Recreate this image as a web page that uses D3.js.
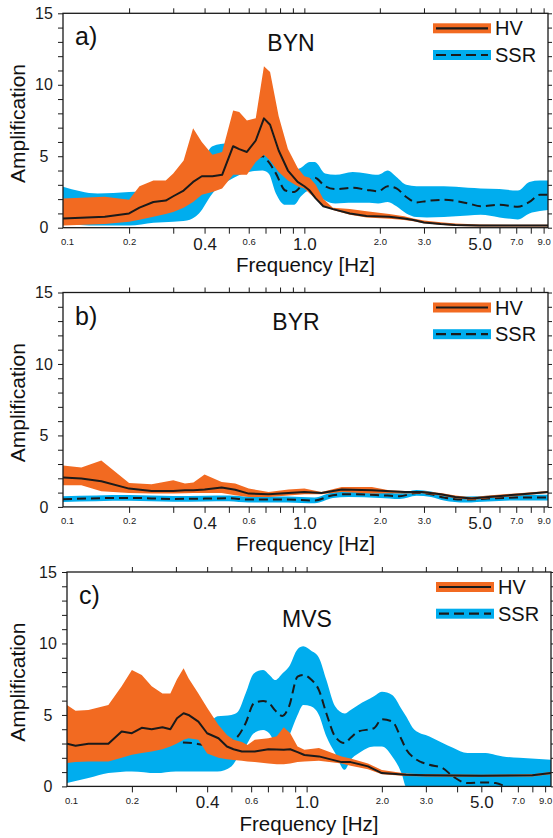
<!DOCTYPE html>
<html>
<head>
<meta charset="utf-8">
<script src="https://cdn.jsdelivr.net/npm/d3@7"></script>
<style>
  body { margin: 0; background: #fff; }
  svg { display: block; }
  text { font-family: "Liberation Sans", Arial, Helvetica, sans-serif; fill: #111; }
</style>
</head>
<body>
<div id="chart"></div>
<script>
// ---- panel a) BYN ----
const fA_hv = [0.109, 0.16, 0.2, 0.22, 0.25, 0.28, 0.3, 0.33, 0.36, 0.39, 0.43, 0.47, 0.52, 0.55, 0.59, 0.64, 0.69, 0.73, 0.79, 0.86, 0.94, 1.0, 1.05, 1.11, 1.19, 1.3, 1.52, 1.77, 2.18, 2.5, 2.72, 3.0, 3.5, 4.0, 5.0, 7.0, 9.4];
const hvA    = [0.65, 0.77, 1.0, 1.4, 1.8, 1.9, 2.2, 2.6, 3.2, 3.6, 3.6, 3.7, 5.7, 5.5, 5.3, 6.1, 7.65, 7.2, 5.4, 4.0, 3.2, 2.9, 2.6, 2.05, 1.5, 1.3, 1.0, 0.82, 0.77, 0.65, 0.54, 0.37, 0.26, 0.19, 0.15, 0.15, 0.15];
const hvA_lo = [0.15, 0.26, 0.42, 0.55, 0.77, 0.95, 1.1, 1.4, 1.8, 2.3, 2.5, 2.75, 3.7, 3.7, 3.7, 4.6, 5.1, 4.7, 3.9, 3.3, 2.9, 2.75, 2.4, 2.0, 1.55, 1.24, 0.9, 0.72, 0.62, 0.54, 0.45, 0.32, 0.2, 0.12, 0.08, 0.08, 0.08];
const hvA_hi = [2.05, 2.17, 1.95, 2.9, 3.3, 3.3, 3.8, 4.7, 6.95, 6.0, 5.1, 5.3, 8.2, 8.1, 7.5, 7.65, 11.3, 10.9, 7.8, 5.5, 4.2, 3.6, 3.5, 3.0, 2.0, 1.4, 1.3, 1.15, 0.95, 0.8, 0.65, 0.5, 0.38, 0.3, 0.22, 0.2, 0.2];

const fA_ssr = [0.109, 0.15, 0.2, 0.25, 0.3, 0.34, 0.38, 0.43, 0.5, 0.6, 0.68, 0.72, 0.77, 0.84, 0.91, 0.97, 1.05, 1.1, 1.21, 1.33, 1.56, 1.77, 1.97, 2.15, 2.33, 2.55, 2.8, 3.08, 3.6, 4.5, 5.05, 6.0, 7.1, 7.9, 8.7, 9.4];
const ssrA    = [1.5, 1.4, 1.45, 1.45, 1.5, 1.75, 2.4, 3.7, 4.4, 4.6, 5.0, 4.6, 3.8, 2.6, 2.5, 2.9, 3.4, 3.5, 2.9, 2.7, 2.8, 2.65, 2.55, 2.9, 2.75, 2.15, 1.77, 1.87, 1.95, 1.7, 1.5, 1.6, 1.47, 1.8, 2.3, 2.3];
const ssrA_lo = [0.3, 0.15, 0.15, 0.35, 0.42, 0.5, 1.0, 2.4, 3.3, 3.9, 4.0, 3.8, 2.4, 1.6, 1.6, 2.2, 2.6, 2.5, 1.9, 1.7, 1.75, 1.75, 1.7, 1.8, 1.5, 1.0, 0.75, 0.72, 0.75, 0.85, 0.9, 0.72, 0.58, 1.0, 1.17, 1.24];
const ssrA_hi = [2.87, 2.4, 2.5, 2.6, 2.8, 3.2, 4.0, 5.7, 5.9, 5.8, 5.5, 5.2, 4.6, 3.7, 4.0, 4.2, 4.6, 4.6, 3.8, 3.7, 3.9, 3.8, 3.7, 4.0, 3.55, 3.0, 2.9, 2.9, 2.9, 2.8, 2.75, 2.7, 2.6, 3.2, 3.3, 3.3];

// ---- panel b) BYR ----
const fB_hv = [0.109, 0.129, 0.155, 0.2, 0.246, 0.3, 0.334, 0.361, 0.4, 0.468, 0.53, 0.6, 0.72, 0.864, 1.0, 1.17, 1.41, 1.86, 2.2, 2.52, 2.94, 3.5, 4.0, 4.65, 5.42, 7.37, 9.4];
const hvB    = [2.05, 1.98, 1.8, 1.28, 1.12, 1.12, 1.17, 1.17, 1.21, 1.35, 1.2, 0.93, 0.89, 0.98, 1.05, 0.98, 1.21, 1.17, 1.1, 1.05, 1.05, 0.89, 0.7, 0.58, 0.7, 0.89, 1.05];
const hvB_lo = [1.52, 1.52, 1.1, 0.98, 0.93, 0.93, 0.95, 0.97, 0.98, 0.98, 0.82, 0.7, 0.7, 0.8, 0.89, 0.89, 1.05, 0.93, 0.95, 0.93, 0.95, 0.8, 0.6, 0.48, 0.6, 0.8, 0.98];
const hvB_hi = [2.9, 2.75, 3.25, 1.68, 1.58, 1.86, 1.63, 1.7, 2.26, 1.75, 1.63, 1.28, 1.05, 1.21, 1.28, 1.05, 1.4, 1.4, 1.15, 1.12, 1.12, 0.98, 0.8, 0.68, 0.8, 0.98, 1.12];

const fB_ssr = [0.109, 0.2, 0.3, 0.4, 0.5, 0.6, 0.86, 1.1, 1.3, 1.5, 2.0, 2.4, 2.8, 3.2, 3.6, 4.4, 5.4, 7.0, 9.4];
const ssrB    = [0.54, 0.63, 0.56, 0.58, 0.6, 0.51, 0.51, 0.45, 0.82, 0.89, 0.82, 0.75, 0.98, 0.89, 0.65, 0.51, 0.58, 0.65, 0.65];
const ssrB_lo = [0.34, 0.43, 0.36, 0.38, 0.4, 0.31, 0.31, 0.25, 0.62, 0.69, 0.62, 0.55, 0.78, 0.69, 0.45, 0.31, 0.38, 0.45, 0.45];
const ssrB_hi = [0.74, 0.83, 0.76, 0.78, 0.8, 0.72, 0.72, 0.66, 1.02, 1.09, 1.02, 0.95, 1.18, 1.08, 0.85, 0.72, 0.78, 0.85, 0.85];

// ---- panel c) MVS ----
const fC_hv = [0.11, 0.119, 0.134, 0.161, 0.182, 0.2, 0.219, 0.24, 0.265, 0.285, 0.303, 0.322, 0.337, 0.369, 0.4, 0.444, 0.48, 0.51, 0.551, 0.58, 0.62, 0.703, 0.76, 0.81, 0.86, 0.92, 0.98, 1.12, 1.38, 1.5, 1.76, 2.0, 2.5, 3.0, 5.0, 8.0, 9.5];
const hvC    = [2.98, 2.85, 2.98, 2.98, 3.84, 3.72, 4.1, 4.0, 4.14, 4.0, 4.77, 5.12, 5.0, 4.53, 3.72, 3.37, 2.79, 2.6, 2.44, 2.44, 2.44, 2.6, 2.58, 2.56, 2.6, 2.4, 2.2, 2.1, 1.7, 1.7, 1.4, 0.93, 0.82, 0.78, 0.75, 0.78, 0.93];
const hvC_lo = [1.63, 1.7, 1.75, 1.75, 2.0, 2.21, 2.33, 2.45, 2.6, 2.79, 3.0, 3.26, 3.37, 3.26, 2.3, 2.0, 1.9, 1.85, 1.8, 1.75, 1.7, 1.6, 1.55, 1.55, 1.6, 1.7, 1.75, 1.8, 1.6, 1.45, 1.2, 0.85, 0.72, 0.7, 0.68, 0.7, 0.85];
const hvC_hi = [5.7, 5.3, 5.35, 5.7, 7.0, 8.14, 7.8, 7.0, 6.5, 6.5, 7.5, 8.26, 7.56, 6.5, 5.5, 4.3, 3.6, 3.26, 3.1, 2.9, 3.26, 3.37, 3.5, 4.14, 3.72, 2.8, 2.56, 2.68, 2.1, 1.95, 1.6, 1.15, 0.9, 0.85, 0.82, 0.85, 1.0];

const fC_ssr = [0.11, 0.134, 0.161, 0.2, 0.25, 0.3, 0.32, 0.36, 0.39, 0.44, 0.5, 0.53, 0.57, 0.615, 0.67, 0.71, 0.75, 0.8, 0.85, 0.92, 0.97, 1.04, 1.12, 1.2, 1.3, 1.42, 1.5, 1.61, 1.86, 2.0, 2.2, 2.4, 2.5, 2.7, 3.1, 3.5, 3.85, 4.4, 5.2, 5.7, 6.1, 7.1, 9.5];
const ssrC    = [null, null, null, null, null, null, 3.07, 3.0, 2.9, 3.0, 3.2, 3.49, 4.42, 5.8, 5.98, 5.8, 5.3, 4.93, 5.58, 7.68, 7.8, 7.5, 6.74, 5.1, 3.49, 3.03, 3.4, 3.84, 4.07, 4.7, 4.54, 3.26, 2.6, 1.98, 1.51, 1.28, 0.7, 0.23, 0.28, 0.23, 0.07, null, null];
const ssrC_lo = [0.23, 0.58, 0.93, 1.05, 0.93, 1.05, 1.05, 1.05, 1.05, 1.05, 1.4, 2.0, 2.8, 3.72, 3.95, 3.7, 3.0, 2.6, 3.5, 5.0, 5.7, 5.6, 5.0, 3.49, 2.33, 1.16, 1.86, 2.3, 2.79, 2.79, 2.1, 0.9, 0, 0, 0, 0, 0, 0, 0, 0, 0, 0, 0];
const ssrC_hi = [2.0, 2.0, 2.2, 2.5, 2.8, 3.2, 3.4, 3.6, 4.0, 4.9, 5.0, 5.2, 6.5, 7.9, 8.14, 7.8, 7.44, 7.9, 8.37, 9.6, 9.8, 9.5, 9.0, 7.44, 5.6, 5.1, 5.35, 5.7, 6.3, 6.63, 6.4, 5.4, 4.9, 3.96, 3.49, 3.03, 2.7, 2.33, 2.33, 2.2, 2.1, 2.0, 1.86];

// axis ticks and labels
const xTicks = [0.1, 0.2, 0.3, 0.4, 0.5, 0.6, 0.7, 0.8, 0.9, 1, 2, 3, 4, 5, 6, 7, 8, 9];
const xLabels = { 0.1: "0.1", 0.2: "0.2", 0.4: "0.4", 0.6: "0.6", 1: "1.0", 2: "2.0", 3: "3.0", 5: "5.0", 7: "7.0", 9: "9.0" };
const xBig = [0.4, 1, 5];
const yTicks = d3.range(0, 16);
const legendNames = ["HV", "SSR"];

const ORANGE = "#f26a21", BLUE = "#00adee", INK = "#1a1a1a";
const H = 214.4;

const panels = [
  { id: "a", letter: "a)", title: "BYN", top: 13.3, left: 63, right: 548, fMin: 0.109, fMax: 9.37, titleX: 291, titleDy: 37.5,
    hv: [fA_hv, hvA, hvA_lo, hvA_hi], ssr: [fA_ssr, ssrA, ssrA_lo, ssrA_hi] },
  { id: "b", letter: "b)", title: "BYR", top: 292.5, left: 63, right: 548, fMin: 0.109, fMax: 9.37, titleX: 296, titleDy: 37.5,
    hv: [fB_hv, hvB, hvB_lo, hvB_hi], ssr: [fB_ssr, ssrB, ssrB_lo, ssrB_hi] },
  { id: "c", letter: "c)", title: "MVS", top: 572, left: 67, right: 551, fMin: 0.11, fMax: 9.5, titleX: 307, titleDy: 55,
    hv: [fC_hv, hvC, hvC_lo, hvC_hi], ssr: [fC_ssr, ssrC, ssrC_lo, ssrC_hi] }
];

const svg = d3.select("#chart").append("svg")
  .attr("width", 553)
  .attr("height", 838);

function rows(s) {
  return s[0].map((f, i) => ({ f: f, m: s[1][i], lo: s[2][i], hi: s[3][i] }));
}

panels.forEach(p => {
  const bottom = p.top + H;
  const x = d3.scaleLog().domain([p.fMin, p.fMax]).range([p.left, p.right]).clamp(true);
  const y = d3.scaleLinear().domain([0, 15]).range([bottom, p.top]);
  const g = svg.append("g");

  g.append("clipPath").attr("id", "clip-" + p.id)
    .append("rect")
    .attr("x", p.left).attr("y", p.top)
    .attr("width", p.right - p.left).attr("height", H);

  const plot = g.append("g").attr("clip-path", `url(#clip-${p.id})`);
  const hvRows = rows(p.hv), ssrRows = rows(p.ssr);

  // SSR band + dashed mean (drawn first, under HV)
  plot.append("path").datum(ssrRows)
    .attr("fill", BLUE)
    .attr("d", d3.area().curve(d3.curveMonotoneX)
      .x(d => x(d.f)).y0(d => y(d.lo)).y1(d => y(d.hi)));
  plot.append("path").datum(ssrRows)
    .attr("fill", "none")
    .attr("stroke", INK)
    .attr("stroke-width", 2)
    .attr("stroke-dasharray", "9,5")
    .attr("d", d3.line().defined(d => d.m != null).curve(d3.curveMonotoneX)
      .x(d => x(d.f)).y(d => y(d.m)));

  // HV band + mean
  plot.append("path").datum(hvRows)
    .attr("fill", ORANGE)
    .attr("d", d3.area().x(d => x(d.f)).y0(d => y(d.lo)).y1(d => y(d.hi)));
  plot.append("path").datum(hvRows)
    .attr("fill", "none")
    .attr("stroke", INK)
    .attr("stroke-width", 2)
    .attr("stroke-linejoin", "round")
    .attr("d", d3.line().x(d => x(d.f)).y(d => y(d.m)));

  // axes
  const bottomAxis = g.append("g")
    .attr("transform", `translate(0,${bottom})`)
    .call(d3.axisBottom(x).tickValues(xTicks).tickSize(6).tickSizeOuter(0)
      .tickFormat(d => xLabels[d] || ""));
  bottomAxis.selectAll(".tick text")
    .attr("y", d => xBig.includes(d) ? 22 : 17.5)
    .attr("dy", 0)
    .style("font-size", d => xBig.includes(d) ? "17px" : "9.5px");
  bottomAxis.selectAll(".tick").filter(d => d === 0.1)
    .select("line").remove();
  bottomAxis.selectAll(".tick").filter(d => d === 0.1)
    .select("text").attr("dx", 4);

  g.append("g")
    .attr("transform", `translate(0,${p.top})`)
    .call(d3.axisTop(x).tickValues(xTicks.slice(1)).tickSize(5).tickSizeOuter(0).tickFormat(""));

  const leftAxis = g.append("g")
    .attr("transform", `translate(${p.left},0)`)
    .call(d3.axisLeft(y).tickValues(yTicks).tickSize(5).tickSizeOuter(0)
      .tickFormat(d => d % 5 === 0 ? d : ""));
  leftAxis.selectAll(".tick text")
    .attr("x", -19)
    .attr("text-anchor", "middle")
    .style("font-size", "16px");

  g.append("g")
    .attr("transform", `translate(${p.right},0)`)
    .call(d3.axisRight(y).tickValues(yTicks).tickSize(4).tickSizeOuter(0).tickFormat(""));

  g.selectAll(".domain").remove();
  g.selectAll(".tick line").attr("stroke", INK).attr("stroke-width", 1);
  g.selectAll(".tick text").style("fill", INK);

  g.append("rect")
    .attr("x", p.left).attr("y", p.top)
    .attr("width", p.right - p.left).attr("height", H)
    .attr("fill", "none")
    .attr("stroke", INK)
    .attr("stroke-width", 1.3);

  // panel letter and station
  g.append("text")
    .attr("x", p.left + 12).attr("y", p.top + 32)
    .style("font-size", "25px")
    .text(p.letter);
  g.append("text")
    .attr("x", p.titleX).attr("y", p.top + p.titleDy)
    .attr("text-anchor", "middle")
    .style("font-size", "23px")
    .text(p.title);

  // axis titles
  g.append("text")
    .attr("x", (p.left + p.right) / 2).attr("y", bottom + 44.5)
    .attr("text-anchor", "middle")
    .style("font-size", "20.5px")
    .text("Frequency [Hz]");
  g.append("text")
    .attr("transform", `translate(25,${(p.top + bottom) / 2 + 3}) rotate(-90)`)
    .attr("text-anchor", "middle")
    .style("font-size", "21px")
    .text("Amplification");

  // legend
  const lx = p.right - 115;
  legendNames.forEach((name, i) => {
    const cy = p.top + 15 + i * 26.7;
    g.append("rect")
      .attr("x", lx).attr("y", cy - 5)
      .attr("width", 58).attr("height", 10)
      .attr("fill", i === 0 ? ORANGE : BLUE);
    g.append("line")
      .attr("x1", lx + 3).attr("x2", lx + 55)
      .attr("y1", cy).attr("y2", cy)
      .attr("stroke", INK)
      .attr("stroke-width", 2.2)
      .attr("stroke-dasharray", i === 0 ? null : "10,5");
    g.append("text")
      .attr("x", lx + 62).attr("y", cy + 7)
      .style("font-size", "20px")
      .text(name);
  });
});
</script>
</body>
</html>
